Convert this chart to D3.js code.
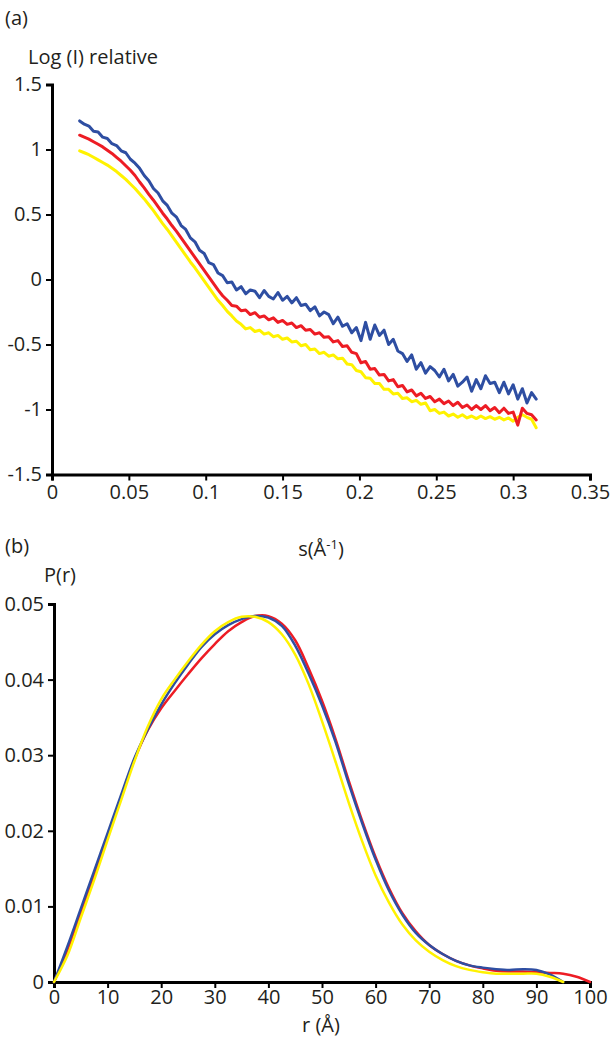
<!DOCTYPE html>
<html lang="en">
<head>
<meta charset="UTF-8">
<title>SAXS curves</title>
<script src="https://d3js.org/d3.v7.min.js"></script>
<style>
  body { margin: 0; background: #fff; }
  svg text { font-family: "Open Sans", "Noto Sans", sans-serif; fill: #231f20; }
  .axis path, .axis line { stroke: #000; }
  .axis path { stroke-width: 3px; }
  .axis line { stroke-width: 2px; }
  .axis text { font-size: 20px; }
  .curve { fill: none; stroke-linejoin: round; stroke-linecap: round; }
</style>
</head>
<body>
<div id="chart"></div>
<script>
// ---- panel (a): scattering curves ----
var sValues = [0.018, 0.021, 0.024, 0.027, 0.030, 0.033, 0.036, 0.039, 0.042, 0.045,
  0.048, 0.051, 0.054, 0.057, 0.060, 0.063, 0.066, 0.069, 0.072, 0.075,
  0.078, 0.081, 0.084, 0.087, 0.090, 0.093, 0.096, 0.099, 0.102, 0.105,
  0.108, 0.111, 0.114, 0.117, 0.120, 0.123, 0.126, 0.129, 0.132, 0.135,
  0.138, 0.141, 0.144, 0.147, 0.150, 0.153, 0.156, 0.159, 0.162, 0.165,
  0.168, 0.171, 0.174, 0.177, 0.180, 0.183, 0.186, 0.189, 0.192, 0.195,
  0.198, 0.201, 0.204, 0.207, 0.210, 0.213, 0.216, 0.219, 0.222, 0.225,
  0.228, 0.231, 0.234, 0.237, 0.240, 0.243, 0.246, 0.249, 0.252, 0.255,
  0.258, 0.261, 0.264, 0.267, 0.270, 0.273, 0.276, 0.279, 0.282, 0.285,
  0.288, 0.291, 0.294, 0.297, 0.300, 0.303, 0.306, 0.309, 0.312, 0.315];

var logBlue = [1.22, 1.195, 1.18, 1.14, 1.135, 1.095, 1.085, 1.045, 1.03, 0.99,
  0.975, 0.925, 0.895, 0.855, 0.80, 0.76, 0.70, 0.665, 0.605, 0.57,
  0.51, 0.48, 0.415, 0.385, 0.32, 0.29, 0.225, 0.20, 0.13, 0.115,
  0.05, 0.03, -0.025, -0.02, -0.08, -0.055, -0.11, -0.08, -0.09, -0.14,
  -0.085, -0.13, -0.15, -0.10, -0.16, -0.13, -0.18, -0.14, -0.20, -0.19,
  -0.24, -0.21, -0.28, -0.25, -0.27, -0.34, -0.29, -0.36, -0.34, -0.41,
  -0.37, -0.47, -0.33, -0.46, -0.35, -0.43, -0.39, -0.50, -0.46, -0.55,
  -0.57, -0.63, -0.58, -0.69, -0.64, -0.72, -0.67, -0.70, -0.75, -0.69,
  -0.78, -0.73, -0.82, -0.79, -0.75, -0.86, -0.77, -0.84, -0.74, -0.80,
  -0.79, -0.87, -0.79, -0.88, -0.81, -0.92, -0.84, -0.95, -0.87, -0.92];

var logRed = [1.11, 1.095, 1.08, 1.06, 1.04, 1.02, 0.995, 0.97, 0.94, 0.91,
  0.875, 0.84, 0.80, 0.75, 0.705, 0.655, 0.61, 0.56, 0.51, 0.465,
  0.415, 0.37, 0.32, 0.27, 0.22, 0.17, 0.12, 0.07, 0.02, -0.03,
  -0.08, -0.125, -0.16, -0.20, -0.205, -0.24, -0.235, -0.27, -0.255, -0.29,
  -0.28, -0.31, -0.295, -0.33, -0.315, -0.345, -0.335, -0.37, -0.355, -0.39,
  -0.385, -0.42, -0.41, -0.445, -0.44, -0.48, -0.47, -0.515, -0.51, -0.56,
  -0.57, -0.64, -0.63, -0.69, -0.685, -0.735, -0.73, -0.78, -0.77, -0.825,
  -0.815, -0.865, -0.85, -0.895, -0.875, -0.915, -0.90, -0.94, -0.92, -0.955,
  -0.935, -0.97, -0.945, -0.985, -0.965, -1.00, -0.97, -1.00, -0.97, -1.01,
  -0.985, -1.025, -0.99, -1.03, -1.02, -1.12, -0.99, -1.03, -1.04, -1.08];

var logYellow = [0.99, 0.975, 0.96, 0.94, 0.92, 0.90, 0.88, 0.855, 0.83, 0.80,
  0.77, 0.735, 0.70, 0.66, 0.62, 0.575, 0.53, 0.48, 0.43, 0.385,
  0.335, 0.285, 0.235, 0.185, 0.135, 0.09, 0.04, -0.01, -0.06, -0.11,
  -0.16, -0.20, -0.245, -0.28, -0.32, -0.345, -0.38, -0.37, -0.40, -0.39,
  -0.42, -0.41, -0.44, -0.43, -0.46, -0.45, -0.48, -0.475, -0.51, -0.50,
  -0.54, -0.535, -0.57, -0.56, -0.59, -0.58, -0.61, -0.605, -0.65, -0.655,
  -0.70, -0.71, -0.755, -0.76, -0.80, -0.80, -0.845, -0.845, -0.88, -0.875,
  -0.915, -0.91, -0.94, -0.93, -0.96, -0.95, -1.01, -1.00, -1.03, -1.02,
  -1.05, -1.035, -1.06, -1.04, -1.065, -1.05, -1.07, -1.05, -1.07, -1.055,
  -1.075, -1.06, -1.08, -1.065, -1.09, -1.06, -1.04, -1.06, -1.075, -1.14];

var sTicks = [0, 0.05, 0.1, 0.15, 0.2, 0.25, 0.3, 0.35];
var logTicks = [-1.5, -1, -0.5, 0, 0.5, 1, 1.5];

// ---- panel (b): distance distributions ----
var rValues = [0, 2.5, 5, 7.5, 10, 12.5, 15, 17.5, 20, 22.5, 25, 27.5, 30, 32.5, 35, 37.5, 40,
  42.5, 45, 47.5, 50, 52.5, 55, 57.5, 60, 62.5, 65, 67.5, 70, 72.5, 75, 77.5, 80,
  82.5, 85, 87.5, 90, 92.5, 95, 97.5, 100];

var prRed = [0, 0.0042, 0.0092, 0.0142, 0.0193, 0.0244, 0.0294, 0.0333, 0.0362, 0.0385,
  0.0407, 0.0428, 0.0447, 0.0464, 0.0476, 0.0484, 0.0484, 0.0474, 0.0452, 0.0415,
  0.0372, 0.0322, 0.0266, 0.0213, 0.0165, 0.0124, 0.0091, 0.0067, 0.0049, 0.0037,
  0.0028, 0.0022, 0.0018, 0.0015, 0.0014, 0.0014, 0.0013, 0.0012, 0.0011, 0.0007, 0];

var prBlue = [0, 0.0047, 0.0097, 0.0147, 0.0197, 0.0247, 0.0296, 0.0334, 0.0367, 0.0395,
  0.0420, 0.0443, 0.0460, 0.0472, 0.0480, 0.0484, 0.0482, 0.0471, 0.0445, 0.0408,
  0.0366, 0.0318, 0.0262, 0.0210, 0.0162, 0.0121, 0.0089, 0.0065, 0.0049, 0.0037,
  0.0028, 0.0022, 0.0019, 0.0017, 0.0016, 0.0017, 0.0016, 0.0010, 0];

var prYellow = [0, 0.0035, 0.0085, 0.0135, 0.0188, 0.0240, 0.0292, 0.0338, 0.0374, 0.0400,
  0.0424, 0.0446, 0.0464, 0.0476, 0.0483, 0.0483, 0.0476, 0.0460, 0.0433, 0.0394,
  0.0345, 0.0292, 0.0237, 0.0186, 0.0141, 0.0105, 0.0076, 0.0055, 0.0040, 0.0029,
  0.0021, 0.0016, 0.0013, 0.0011, 0.0011, 0.0011, 0.0011, 0.0007, 0];

var rTicks = [0, 10, 20, 30, 40, 50, 60, 70, 80, 90, 100];
var prTicks = [0, 0.01, 0.02, 0.03, 0.04, 0.05];

var colors = { blue: '#2e4ea2', red: '#ed1c24', yellow: '#fff200' };

var width = 616, height = 1050;

var svg = d3.select('#chart').append('svg')
    .attr('width', width)
    .attr('height', height);

// scales
var xA = d3.scaleLinear().domain([0, 0.35]).range([52, 590]);
var yA = d3.scaleLinear().domain([-1.5, 1.5]).range([474.5, 84.5]);
var xB = d3.scaleLinear().domain([0, 100]).range([54, 590]);
var yB = d3.scaleLinear().domain([0, 0.05]).range([982, 604]);

function fmt(d) { return String(d); }

// panel (a) axes
svg.append('g').attr('class', 'axis')
    .attr('transform', 'translate(0,' + yA(-1.5) + ')')
    .call(d3.axisBottom(xA).tickValues(sTicks).tickFormat(fmt).tickSizeOuter(0).tickSize(6).tickPadding(4));
svg.append('g').attr('class', 'axis')
    .attr('transform', 'translate(' + xA(0) + ',0)')
    .call(d3.axisLeft(yA).tickValues(logTicks).tickFormat(fmt).tickSizeOuter(0).tickSize(6).tickPadding(4));

// panel (b) axes
svg.append('g').attr('class', 'axis')
    .attr('transform', 'translate(0,' + yB(0) + ')')
    .call(d3.axisBottom(xB).tickValues(rTicks).tickFormat(fmt).tickSizeOuter(0).tickSize(6).tickPadding(2));
svg.append('g').attr('class', 'axis')
    .attr('transform', 'translate(' + xB(0) + ',0)')
    .call(d3.axisLeft(yB).tickValues(prTicks).tickFormat(fmt).tickSizeOuter(0).tickSize(6).tickPadding(4));

// curves (a)
var lineA = d3.line()
    .x(function (d, i) { return xA(sValues[i]); })
    .y(function (d) { return yA(d); });

[[logYellow, colors.yellow], [logRed, colors.red], [logBlue, colors.blue]].forEach(function (c) {
    svg.append('path').attr('class', 'curve')
        .attr('d', lineA(c[0]))
        .attr('stroke', c[1])
        .attr('stroke-width', 3);
});

// curves (b)
var lineB = d3.line()
    .x(function (d, i) { return xB(rValues[i]); })
    .y(function (d) { return yB(d); })
    .curve(d3.curveCatmullRom);

[[prRed, colors.red], [prBlue, colors.blue], [prYellow, colors.yellow]].forEach(function (c) {
    svg.append('path').attr('class', 'curve')
        .attr('d', lineB(c[0]))
        .attr('stroke', c[1])
        .attr('stroke-width', 2.5);
});

// labels
function label(x, y, txt, anchor) {
    return svg.append('text').attr('x', x).attr('y', y)
        .attr('text-anchor', anchor || 'start')
        .style('font-size', '20px')
        .text(txt);
}
label(5, 25, '(a)');
label(28, 64, 'Log (I) relative');
var sl = label(321, 556, 's(Å', 'middle');
sl.append('tspan').attr('dy', -7).style('font-size', '13px').text('-1');
sl.append('tspan').attr('dy', 7).text(')');
label(5, 553, '(b)');
label(44, 582, 'P(r)');
label(321, 1032, 'r (Å)', 'middle');
</script>
</body>
</html>
